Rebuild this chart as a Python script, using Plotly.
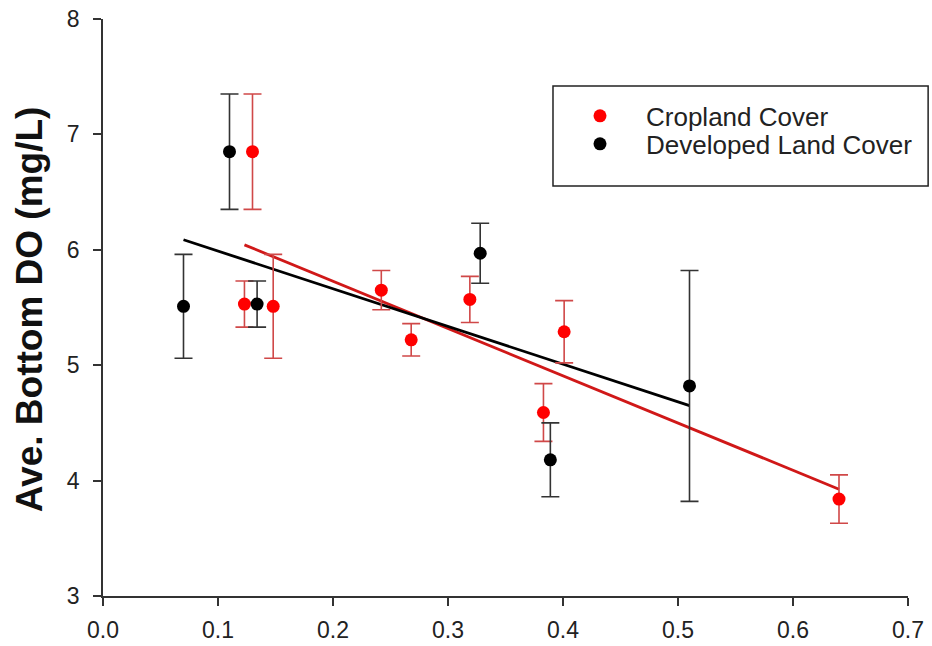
import numpy as np
import plotly.graph_objects as go

# Cropland cover sites
crop_x = [0.123, 0.130, 0.148, 0.242, 0.268, 0.319, 0.383, 0.401, 0.640]
crop_y = [5.53, 6.85, 5.51, 5.65, 5.22, 5.57, 4.59, 5.29, 3.84]
crop_err = [0.20, 0.50, 0.45, 0.17, 0.14, 0.20, 0.25, 0.27, 0.21]

# Developed land cover sites
dev_x = [0.070, 0.110, 0.134, 0.328, 0.389, 0.510]
dev_y = [5.51, 6.85, 5.53, 5.97, 4.18, 4.82]
dev_err = [0.45, 0.50, 0.20, 0.26, 0.32, 1.00]

x_ticks = [0.0, 0.1, 0.2, 0.3, 0.4, 0.5, 0.6, 0.7]
y_ticks = [3, 4, 5, 6, 7, 8]

RED = "#ff0000"
RED_BAR = "#d04848"
RED_LINE = "#d01818"
BLACK = "#000000"
GRAY_BAR = "#333333"
AXIS = "#333333"

fig = go.Figure()


def fit_line(xs, ys):
    slope, intercept = np.polyfit(xs, ys, 1)
    xx = np.array([min(xs), max(xs)])
    return xx, slope * xx + intercept


# linear regression lines
fx, fy = fit_line(crop_x, crop_y)
fig.add_trace(go.Scatter(x=fx, y=fy, mode="lines", line=dict(color=RED_LINE, width=2.8),
                         showlegend=False, hoverinfo="skip"))
fx, fy = fit_line(dev_x, dev_y)
fig.add_trace(go.Scatter(x=fx, y=fy, mode="lines", line=dict(color=BLACK, width=2.8),
                         showlegend=False, hoverinfo="skip"))

fig.add_trace(go.Scatter(
    x=crop_x, y=crop_y, mode="markers", name="Cropland Cover", legend="legend",
    marker=dict(color=RED, size=13),
    error_y=dict(type="data", array=crop_err, visible=True, color=RED_BAR,
                 thickness=1.6, width=9),
))
fig.add_trace(go.Scatter(
    x=dev_x, y=dev_y, mode="markers", name="Developed Land Cover", legend="legend2",
    marker=dict(color=BLACK, size=13),
    error_y=dict(type="data", array=dev_err, visible=True, color=GRAY_BAR,
                 thickness=1.6, width=9),
))

# legend frame
fig.add_shape(type="rect", xref="paper", yref="paper",
              x0=0.559, x1=1.025, y0=0.7106, y1=0.884,
              line=dict(color="#222222", width=1.5), fillcolor="rgba(0,0,0,0)")

fig.add_annotation(
    text="<b>Ave. Bottom DO (mg/L)</b>", xref="paper", yref="paper",
    x=0, y=0.497, xshift=-74, textangle=-90, showarrow=False,
    xanchor="center", yanchor="middle",
    font=dict(family="Liberation Sans, Arial", size=37, color="#111111"),
)

legend_style = dict(
    x=0.559, xanchor="left", yanchor="middle",
    bgcolor="rgba(0,0,0,0)", borderwidth=0,
    font=dict(size=26, color="#222222"),
    itemwidth=82, indentation=1,
)

fig.update_layout(
    width=932, height=646,
    margin=dict(l=103, r=24, t=19, b=50),
    paper_bgcolor="white", plot_bgcolor="white",
    font=dict(family="Liberation Sans, Arial", color="#222222"),
    showlegend=True,
    legend=dict(y=0.832, **legend_style),
    legend2=dict(y=0.7835, **legend_style),
    xaxis=dict(
        range=[0, 0.7], tickvals=x_ticks, tickformat=".1f", automargin=False,
        showgrid=False, zeroline=False, showline=True, linecolor=AXIS, linewidth=1.5,
        ticks="outside", ticklen=8, tickwidth=1.5, tickcolor=AXIS,
        tickfont=dict(size=23, color="#222222"), ticklabelstandoff=5,
    ),
    yaxis=dict(
        range=[3, 8], tickvals=y_ticks, automargin=False,
        showgrid=False, zeroline=False, showline=True, linecolor=AXIS, linewidth=1.5,
        ticks="outside", ticklen=8, tickwidth=1.5, tickcolor=AXIS,
        tickfont=dict(size=23, color="#222222"), ticklabelstandoff=9,
    ),
)

fig.write_html("out.html")
